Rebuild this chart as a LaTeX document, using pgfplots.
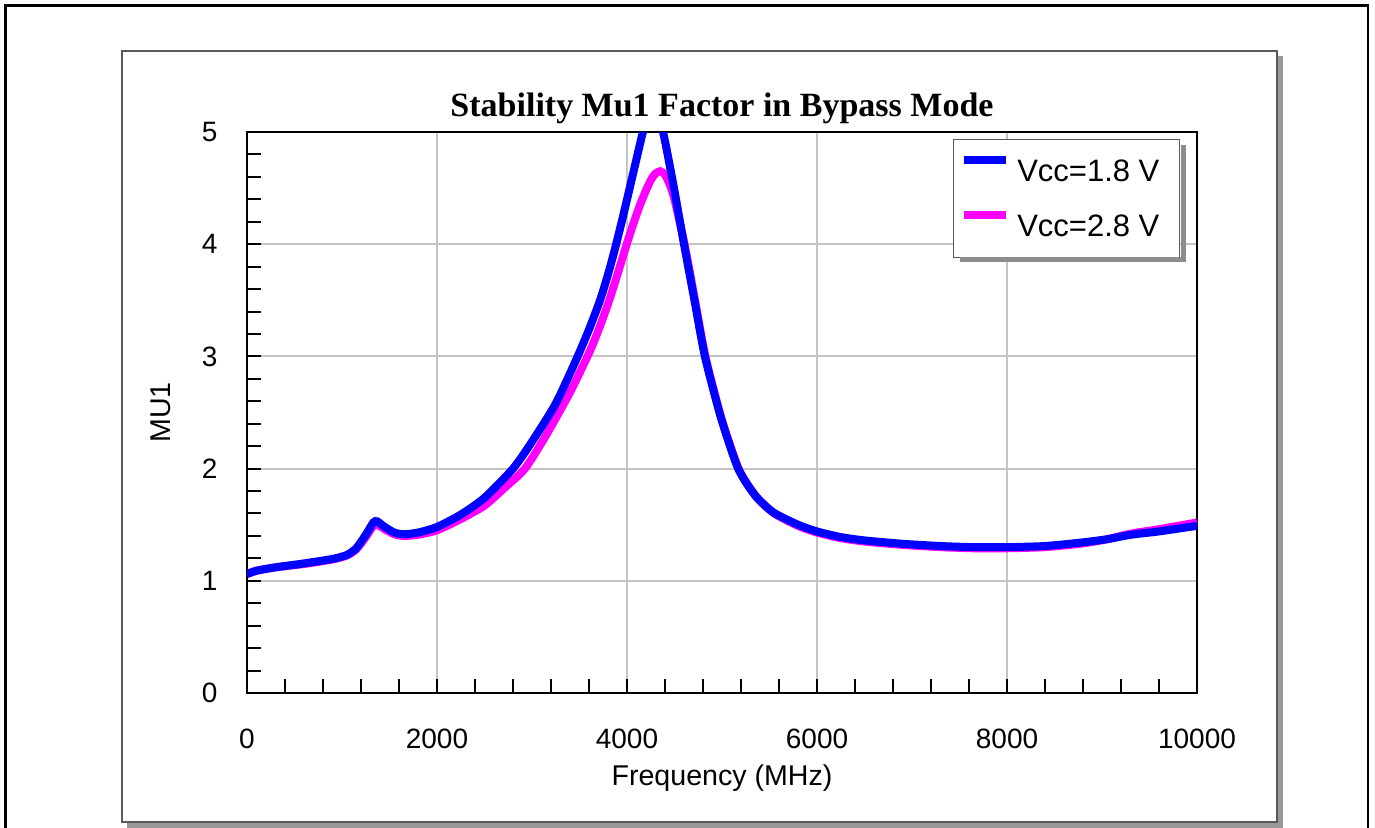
\documentclass[border=0pt]{standalone}
\usepackage{pgfplots}
\pgfplotsset{compat=1.18}
\usepackage{pgfplotstable}
\usepackage{fontspec}
\setmainfont{Liberation Sans}
\newfontfamily\titlefont{Liberation Serif}
\definecolor{vblue}{RGB}{0,0,255}
\definecolor{vpink}{RGB}{255,0,255}
\definecolor{gridgray}{RGB}{196,196,196}

\pgfplotstableread{
f mu
0 1.06
100 1.09
300 1.12
600 1.155
900 1.195
1050 1.23
1150 1.29
1250 1.41
1330 1.52
1370 1.53
1450 1.48
1550 1.43
1650 1.415
1800 1.43
2000 1.48
2250 1.59
2500 1.74
2800 2.00
3000 2.24
3250 2.58
3470 2.98
3600 3.24
3716 3.50
3800 3.73
3874 3.96
3950 4.22
4020 4.47
4100 4.76
4168 5.00
4270 5.28
4379 5.00
4490 4.52
4600 4.00
4710 3.50
4820 3.00
4990 2.45
5170 2.00
5350 1.76
5540 1.61
5800 1.50
6000 1.44
6250 1.39
6500 1.36
6900 1.33
7300 1.31
7650 1.30
8000 1.30
8400 1.31
8770 1.34
9050 1.37
9300 1.41
9600 1.44
10000 1.49
}\bluedata

\pgfplotstableread{
f mu
0 1.06
100 1.09
300 1.12
600 1.15
900 1.19
1050 1.225
1150 1.28
1250 1.39
1330 1.49
1370 1.50
1450 1.46
1550 1.415
1650 1.40
1800 1.41
2000 1.45
2250 1.55
2500 1.67
2700 1.82
2926 2.00
3150 2.30
3400 2.68
3611 3.05
3720 3.28
3817 3.51
3910 3.76
3997 4.00
4070 4.19
4137 4.35
4200 4.48
4250 4.57
4300 4.63
4350 4.65
4400 4.62
4450 4.53
4500 4.40
4610 3.98
4720 3.48
4830 2.98
5000 2.43
5180 1.99
5360 1.75
5550 1.60
5800 1.49
6000 1.43
6250 1.38
6500 1.35
6900 1.32
7300 1.30
7650 1.29
8000 1.29
8400 1.30
8770 1.33
9050 1.37
9300 1.42
9600 1.46
10000 1.52
}\pinkdata

\begin{document}
\begin{tikzpicture}
\useasboundingbox (0,0) rectangle (687.5pt,-414pt);
\begin{scope}[x=0.5pt,y=-0.5pt]
  \draw[line width=1.2pt] (5.5,840) -- (5.5,5.5) -- (1368,5.5) -- (1368,840);
  \fill[black!40] (127,56) rectangle (1283,828);
  \draw[fill=white, draw=black!65, line width=0.6pt] (122,51) rectangle (1277,822);
\end{scope}
\begin{axis}[
  at={(123.5pt,-346.5pt)}, anchor=south west,
  scale only axis, width=475pt, height=280.5pt,
  xmin=0, xmax=10000, ymin=0, ymax=5,
  xtick={0,2000,...,10000}, ytick={0,1,...,5},
  scaled x ticks=false,
  minor x tick num=4, minor y tick num=4,
  tick align=inside, tick pos=left,
  major tick length=7pt, minor tick length=7pt,
  tick style={black, line width=1pt},
  grid=major, major grid style={color=gridgray, line width=1pt},
  axis line style={black, line width=1.1pt},
  /pgf/number format/1000 sep={},
  /pgf/number format/assume math mode=true,
  ticklabel style={font=\fontsize{14}{16}\selectfont},
  yticklabel style={xshift=-11.3pt},
  xticklabel style={yshift=-14.3pt},
  xlabel={Frequency (MHz)},
  ylabel={MU1},
  label style={font=\fontsize{14.3}{16}\selectfont},
  xlabel style={at={(axis description cs:0.5,0)}, anchor=center, yshift=-42.5pt},
  ylabel style={at={(axis description cs:-0.0905,0.5)}, anchor=center},
  title={\titlefont\bfseries Stability Mu1 Factor in Bypass Mode},
  title style={font=\fontsize{17}{20}\selectfont, at={(axis description cs:0.5,1)}, anchor=center, yshift=6pt},
  reverse legend,
  legend style={at={(axis description cs:1,1)}, anchor=north east, xshift=-8.5pt, yshift=-3.5pt,
    draw=black!65, line width=0.6pt, fill=white,
    font=\fontsize{15.5}{18}\selectfont,
    row sep=11.8pt, column sep=1pt, inner xsep=3.5pt, inner ysep=7.7pt,
    nodes={inner sep=2.5pt, text depth=0pt}},
  legend cell align=left,
  legend image code/.code={\draw[line width=4pt, #1] (0pt,5.35pt) -- (21pt,5.35pt);},
]
\addplot[vpink, line width=4pt, smooth, tension=0.4] table[x=f, y=mu] {\pinkdata};
\addlegendentry{Vcc=2.8 V\hspace*{4pt}}
\addplot[vblue, line width=4pt, smooth, tension=0.4] table[x=f, y=mu] {\bluedata};
\addlegendentry{Vcc=1.8 V\hspace*{4pt}}
\end{axis}
\begin{scope}[x=0.5pt,y=-0.5pt]
  \fill[black!45] (1180.5,145) rectangle (1186,262);
  \fill[black!45] (960,257.5) rectangle (1186,262);
\end{scope}
\end{tikzpicture}
\end{document}
